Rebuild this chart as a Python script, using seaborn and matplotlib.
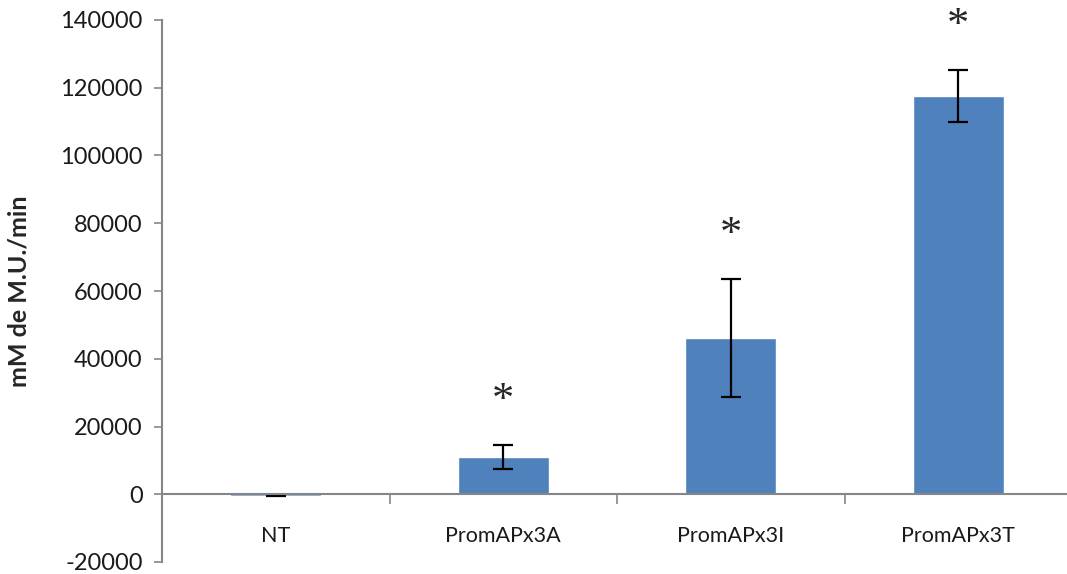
import matplotlib
matplotlib.use("Agg")
import matplotlib.pyplot as plt
import seaborn as sns
import pandas as pd
from matplotlib.ticker import FixedLocator, MultipleLocator

# values
categories = ["NT", "PromAPx3A", "PromAPx3I", "PromAPx3T"]
means = [-400, 11000, 46000, 117500]
errors = [200, 3500, 17400, 7600]
significant = [False, True, True, True]

df = pd.DataFrame({"group": categories, "value": means})

sns.set_style("white")
plt.rcParams["font.family"] = ["Lato", "DejaVu Sans"]
plt.rcParams["axes.unicode_minus"] = False

fig = plt.figure(figsize=(10.67, 5.74), dpi=100)
ax = fig.add_axes([162 / 1067, 12 / 574, 910 / 1067, 542 / 574])

sns.barplot(data=df, x="group", y="value", color="#4F81BD", saturation=1,
            width=0.4, ax=ax)
pos = list(range(len(categories)))
ax.errorbar(pos, means, yerr=errors, fmt="none", ecolor="black",
            elinewidth=1.6, capsize=7, capthick=1.6)

# significance stars above the error bars
for x, m, e, s in zip(pos, means, errors, significant):
    if s:
        ax.text(x, m + e + 13000, "*", ha="center", va="center", fontsize=32,
                family="Liberation Serif")

ax.set_xlim(-0.5, 3.5)
ax.set_ylim(-20000, 140000)
ax.yaxis.set_major_locator(MultipleLocator(20000))

gray = "#868686"
for side in ["top", "right"]:
    ax.spines[side].set_visible(False)
ax.spines["bottom"].set_position(("data", 0))
for side in ["left", "bottom"]:
    ax.spines[side].set_color(gray)
    ax.spines[side].set_linewidth(1.5)

ax.xaxis.set_major_locator(FixedLocator([0.5, 1.5, 2.5]))
ax.xaxis.set_minor_locator(FixedLocator(pos))
ax.set_xticklabels([], minor=False)
ax.set_xticklabels(categories, minor=True)
ax.tick_params(axis="x", which="major", direction="out", length=7, width=1.2,
               color=gray, bottom=True)
ax.tick_params(axis="x", which="minor", length=0, pad=23, labelsize=15.5,
               labelcolor="#1a1a1a")
ax.tick_params(axis="y", direction="out", length=6, width=1.2, color=gray,
               left=True, labelsize=17, labelcolor="#1a1a1a", pad=8)

ax.set_xlabel("")
ax.set_ylabel("mM de M.U./min", fontsize=18, fontweight="bold")
ax.yaxis.set_label_coords(-0.145, 0.5)

fig.savefig("out.png", dpi=100)
